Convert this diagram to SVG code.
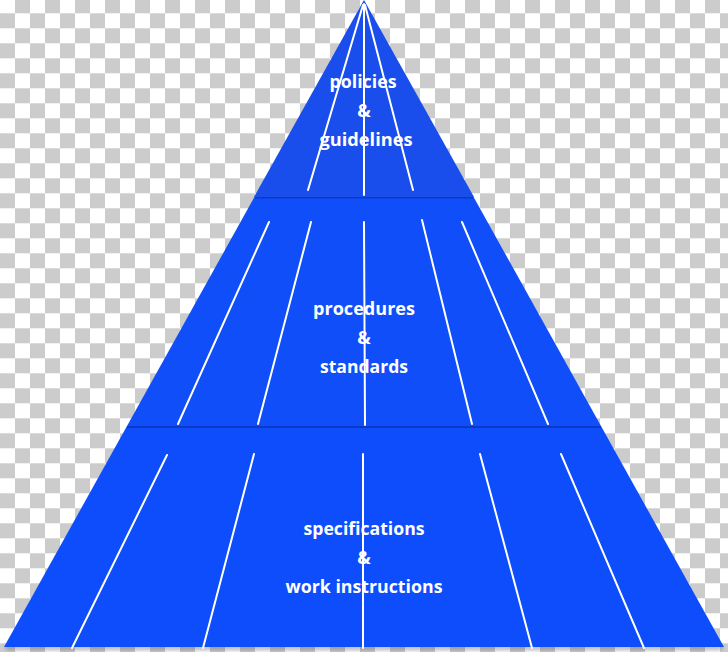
<svg xmlns="http://www.w3.org/2000/svg" width="728" height="652" viewBox="0 0 728 652">
  <defs>
    <pattern id="checker" patternUnits="userSpaceOnUse" x="0" y="13.3" width="30" height="30">
      <rect x="0" y="0" width="30" height="30" fill="#ffffff"/>
      <rect x="0" y="0" width="15" height="15" fill="#cccccc"/>
      <rect x="15" y="15" width="15" height="15" fill="#cccccc"/>
    </pattern>
    <filter id="blur" x="-10%" y="-200%" width="120%" height="500%">
      <feGaussianBlur stdDeviation="2"/>
    </filter>
    <style>
      .tier-top { fill: #1a4eec; }
      .tier { fill: #0f4ef8; }
      .tier-base { fill: #0d4dfb; }
      .sep { stroke: #0a36b8; stroke-width: 2; stroke-opacity: 0.8; }
      .stripe { stroke: #ffffff; stroke-width: 2; fill: none; stroke-linecap: round; }
      .label { fill: #ffffff; font-family: "Open Sans", "Liberation Sans", sans-serif; font-weight: 700; font-size: 18px; text-anchor: middle; }
    </style>
  </defs>

  <rect x="0" y="0" width="728" height="652" fill="url(#checker)"/>

  <!-- shadow under base -->
  <rect x="6" y="645" width="716" height="5" fill="#555555" opacity="0.45" filter="url(#blur)"/>

  <g id="tier-bottom">
    <polygon class="tier-base" points="127,426 601,426 724,647 4,647"/>
    <line class="sep" x1="127" y1="427" x2="601" y2="427"/>
    <line class="stripe" x1="167" y1="455" x2="72" y2="648"/>
    <line class="stripe" x1="254" y1="454" x2="203" y2="648"/>
    <line class="stripe" x1="363" y1="454" x2="363" y2="648" stroke-width="1.6"/>
    <line class="stripe" x1="480" y1="454" x2="532" y2="648"/>
    <line class="stripe" x1="561" y1="454" x2="644" y2="648"/>
    <text class="label" x="364" y="535" textLength="121" lengthAdjust="spacingAndGlyphs">specifications</text>
    <text class="label" x="364" y="564">&amp;</text>
    <text class="label" x="364" y="593" textLength="157" lengthAdjust="spacingAndGlyphs">work instructions</text>
  </g>

  <g id="tier-middle">
    <polygon class="tier" points="254.4,197 473.6,197 601,426 127,426"/>
    <line class="sep" x1="255" y1="197.5" x2="473" y2="197.5"/>
    <line class="stripe" x1="269" y1="222" x2="178" y2="424"/>
    <line class="stripe" x1="311" y1="222" x2="258" y2="424"/>
    <line class="stripe" x1="364" y1="222" x2="365" y2="425"/>
    <line class="stripe" x1="422" y1="220" x2="472" y2="424"/>
    <line class="stripe" x1="462" y1="222" x2="548" y2="424"/>
    <text class="label" x="364" y="315" textLength="102" lengthAdjust="spacingAndGlyphs">procedures</text>
    <text class="label" x="364" y="344">&amp;</text>
    <text class="label" x="364" y="373" textLength="88" lengthAdjust="spacingAndGlyphs">standards</text>
  </g>

  <g id="tier-top">
    <polygon class="tier-top" points="364,0 474,197 254,197"/>
    <line class="stripe" x1="363" y1="5" x2="308" y2="190"/>
    <line class="stripe" x1="364" y1="4" x2="364" y2="195"/>
    <line class="stripe" x1="365" y1="5" x2="413" y2="190"/>
    <text class="label" x="363" y="88" textLength="67" lengthAdjust="spacingAndGlyphs">policies</text>
    <text class="label" x="364" y="117">&amp;</text>
    <text class="label" x="366" y="146" textLength="93" lengthAdjust="spacingAndGlyphs">guidelines</text>
  </g>

  <g id="connectors"></g>
</svg>
